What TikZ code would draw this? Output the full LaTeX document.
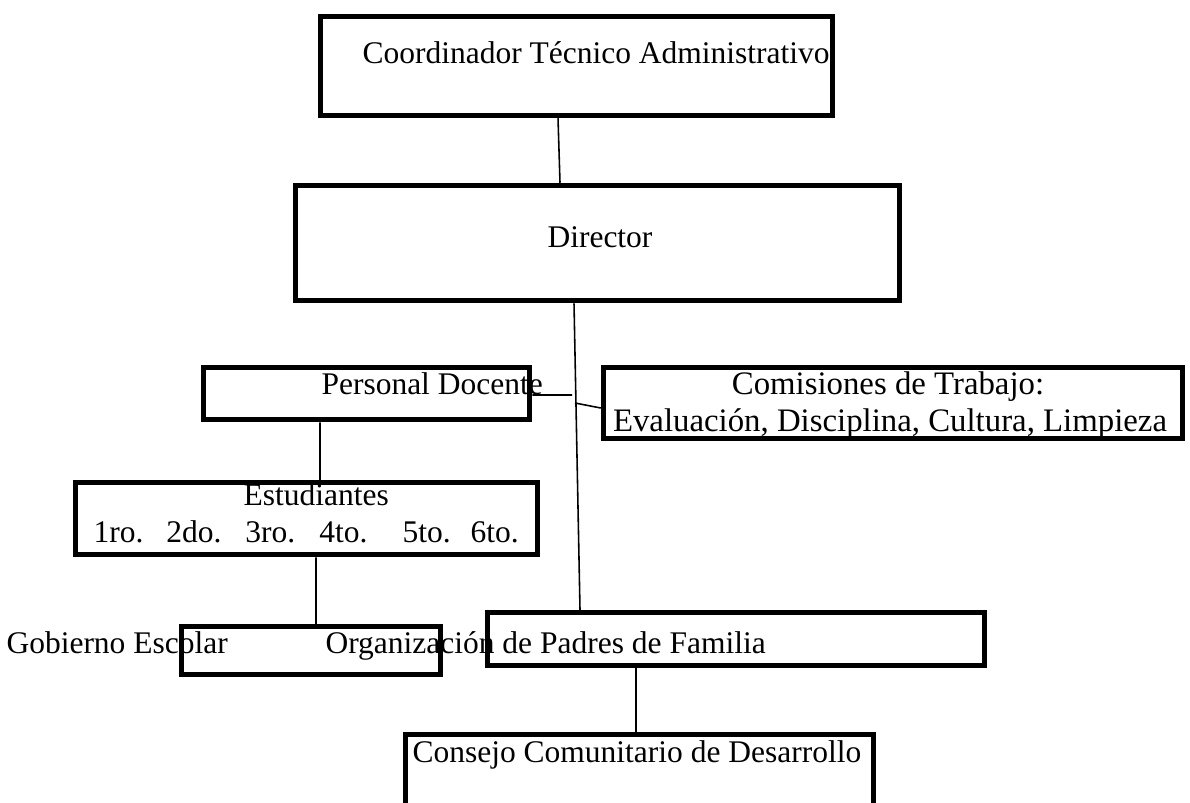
\documentclass[tikz,border=0pt]{standalone}
\usepackage{fontspec}
\setmainfont{Liberation Serif}
\usetikzlibrary{calc}
\newcommand{\pxu}{0.381pt}

\begin{document}
\begin{tikzpicture}[
    % GLOBAL CFG
    x=\pxu, y=-\pxu,
    font=\fontsize{12}{14}\selectfont,
    % Styles
    box/.style={% For the frames
        rectangle,
        draw,
        line width=2.1pt,
        inner sep=0pt,
        },
    txt/.style={% For the texts, placed on their baseline
        anchor=base west,
        inner sep=0pt,
        },
    ctxt/.style={% Centred texts (the Comisiones box)
        anchor=base,
        inner sep=0pt,
        font=\fontsize{12.5}{14}\selectfont,
        },
    link/.style={% For the connecting lines
        line width=0.6pt,
        },
    ]

    \useasboundingbox (0,0) rectangle (1190,802);

%Start with the texts, the frames go over them.
    \node[txt] (tcoord) at (362,63) {Coordinador Técnico Administrativo};
    \node[txt] (tdir) at (547,247) {Director};
    \node[txt] (tpers) at (321,394) {Personal Docente};
    \node[ctxt] (tcom1) at (888,394) {Comisiones de Trabajo:};
    \node[ctxt] (tcom2) at (890,431) {Evaluación, Disciplina, Cultura, Limpieza};
    \node[txt] (test1) at (243,505) {Estudiantes};
    \node[txt] (test2) at (93,542) {1ro.\hspace{8.8pt}2do.\hspace{9.1pt}3ro.\hspace{9.2pt}4to.\hspace{13.3pt}5to.\hspace{7.6pt}6to.};
    \node[txt] (tgob) at (6,653) {Gobierno Escolar};
    \node[txt] (tpad) at (325,653) {Organización de Padres de Familia};
    \node[txt] (tcons) at (412,762) {Consejo Comunitario de Desarrollo};

    % Draw the frames
    \node[box, minimum width=512*\pxu, minimum height=99*\pxu] (coord) at (576.5,66) {};
    \node[box, minimum width=604*\pxu, minimum height=115*\pxu] (dir) at (597.5,243) {};
    \node[box, minimum width=326*\pxu, minimum height=52*\pxu] (pers) at (366.5,393.5) {};
    \node[box, minimum width=579*\pxu, minimum height=71*\pxu] (com) at (893,403) {};
    \node[box, minimum width=462*\pxu, minimum height=72*\pxu] (est) at (306.5,518.5) {};
    \node[box, minimum width=259*\pxu, minimum height=48*\pxu] (gob) at (311,650.5) {};
    \node[box, minimum width=497*\pxu, minimum height=53*\pxu] (pad) at (736,639) {};
    \node[box, minimum width=468*\pxu, minimum height=100*\pxu] (cons) at (639.5,784.5) {};

    % Loose ends next to the long line
    \coordinate (pj) at (572,395);
    \coordinate (cj) at (575,403);

% Connect them.
    \draw[link] ($(coord.south)+(-18.5,0)$) -- ($(dir.north)+(-37.5,0)$);
    \draw[link] ($(dir.south)+(-23.5,0)$) -- ($(pad.north)+(-156,0)$);
    \draw[link] ($(pers.east)+(0,1.5)$) -- (pj);
    \draw[link] (cj) -- ($(com.west)+(0,5)$);
    \draw[link] ($(pers.south)+(-46.5,0)$) -- ($(est.north)+(13.5,0)$);
    \draw[link] ($(est.south)+(9.5,0)$) -- ($(gob.north)+(5,0)$);
    \draw[link] ($(pad.south)+(-100,0)$) -- ($(cons.north)+(-3.5,0)$);

\end{tikzpicture}
\end{document}
